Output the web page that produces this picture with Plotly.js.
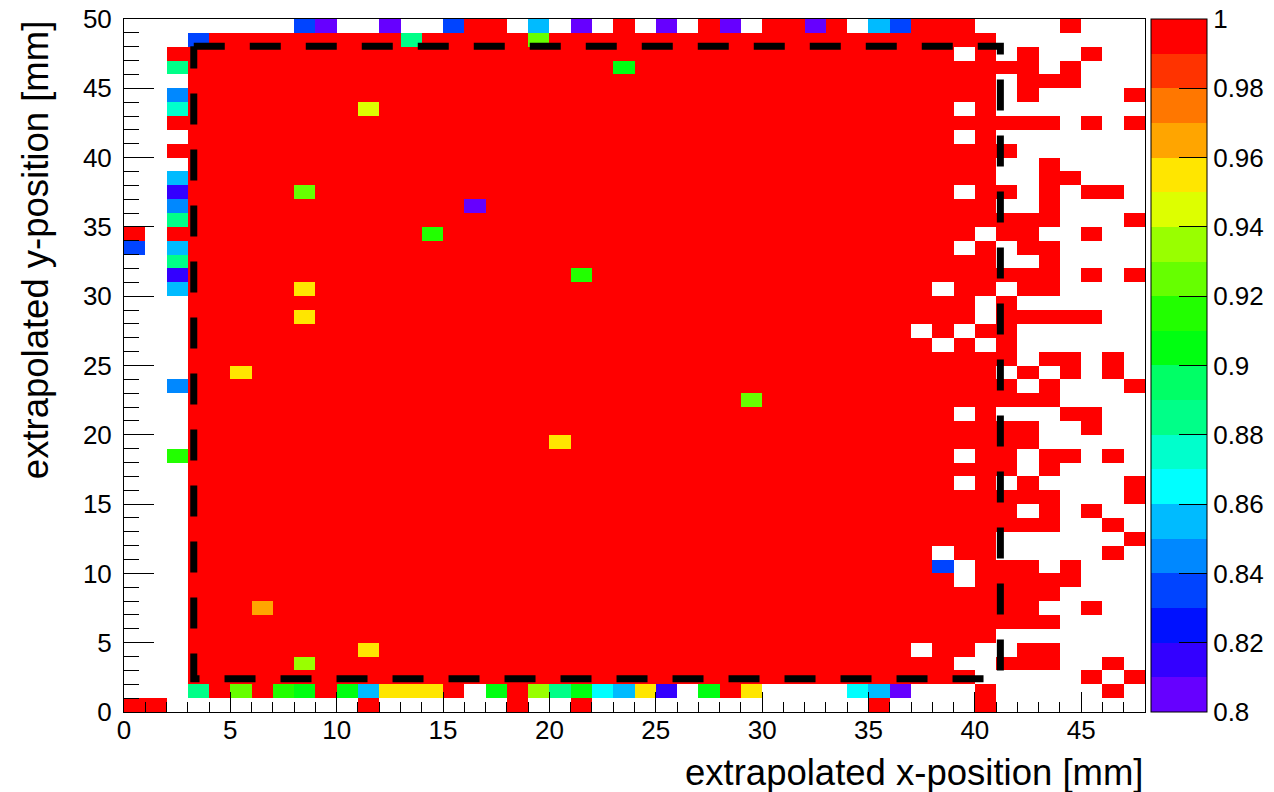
<!DOCTYPE html>
<html>
<head>
<meta charset="utf-8">
<script src="https://cdn.plot.ly/plotly-3.0.1.min.js"></script>
<style>
  html, body { margin: 0; padding: 0; background: #ffffff; }
  #chart { width: 1274px; height: 792px; }
</style>
</head>
<body>
<div id="chart"></div>
<script>
// ---------------- DATA ----------------
// 48 x-bins (0..48 mm) and 50 y-bins (0..50 mm), 1 mm wide each
const xFirstBinCenter = 0.5, xBinWidth = 1, nXBins = 48;
const yFirstBinCenter = 0.5, yBinWidth = 1, nYBins = 50;

// Cell codes -> efficiency value ('.' = empty bin)
const codeValues = {
  'R': 1.000, 'r': 0.985, 'o': 0.975, 'O': 0.965, 'Y': 0.955,
  'y': 0.945, 'l': 0.935, 'L': 0.925, 'g': 0.915, 'G': 0.905,
  'm': 0.895, 'e': 0.885, 't': 0.875, 'C': 0.865, 'c': 0.855,
  's': 0.845, 'b': 0.835, 'B': 0.825, 'V': 0.815, 'P': 0.805
};

// Each row as run-length tokens ("5R" = five cells of code R), top row (y 49-50) first
const rowsTopDown = [
  "8. b P 2. P 2. b 2R . c . P . R . P . R P . 2R P R . c b 3R 4. R 3.", // 49
  "3. b 9R e 5R L 21R 7.",                // 48
  "2. 37R . R . R 2. R 2.",               // 47
  "2. e 20R G 19R . R 3.",                // 46
  "3. 38R . 3R 3.",                       // 45
  "2. s 38R . R 4. R",                    // 44
  "2. t 8R y 27R . R 7.",                 // 43
  "2. 42R . R . R",                       // 42
  "3. 36R . R 7.",                        // 41
  "2. 40R 6.",                            // 40
  "3. 38R 2. R 4.",                       // 39
  "2. c 38R 2. 2R 3.",                    // 38
  "2. V 5R L 30R . 2R . R . 2R .",        // 37
  "2. s 13R P 24R 2. R 4.",               // 36
  "2. e 41R 3. R",                        // 35
  "R . 12R g 25R . 2R 2. R 2.",           // 34
  "b . c 36R . R . 2R 4.",                // 33
  "2. e 38R 2. R 4.",                     // 32
  "2. V 18R g 22R . R . R",               // 31
  "2. c 5R Y 29R . 2R . 2R 4.",           // 30
  "3. 37R . R 6.",                        // 29
  "3. 5R Y 31R . 5R 2.",                  // 28
  "3. 34R . R . 2R 6.",                   // 27
  "3. 35R . R . R 6.",                    // 26
  "3. 39R . 2R . R .",                    // 25
  "3. 2R Y 35R . R . R . R .",            // 24
  "2. s 39R . R 3. R",                    // 23
  "3. 26R L 14R 4.",                      // 22
  "3. 36R . R 3. 2R 2.",                  // 21
  "3. 40R 2. R 2.",                       // 20
  "3. 17R Y 22R 5.",                      // 19
  "2. g 36R . 2R . 2R . R .",             // 18
  "3. 39R . R 4.",                        // 17
  "3. 36R . R . R 4. R",                  // 16
  "3. 41R 3. R",                          // 15
  "3. 39R . R . R 2.",                    // 14
  "3. 41R 2. R .",                        // 13
  "3. 38R 6. R",                          // 12
  "3. 35R . 2R 5. R .",                   // 11
  "3. 35R b . 3R . R 3.",                 // 10
  "3. 36R . 5R 3.",                       // 9
  "3. 41R 4.",                            // 8
  "3. 3R O 36R 2. R 2.",                  // 7
  "3. 41R 4.",                            // 6
  "3. 38R 7.",                            // 5
  "3. 8R Y 25R . 2R 2. 2R 4.",            // 4
  "3. 5R l 30R 2. 3R 2. R .",             // 3
  "3. 37R 5. R . R",                      // 2
  "3. e R L R g G R G c 3Y R . G R l e G C c Y V . G R Y 4. C c P 3. R 5. R .", // 1
  "2R 9. R 6. R 2. R 13. R 4. R 7."       // 0
];

// Colour bands of the palette, from 0.80 (bottom) to 1.00 (top), 0.01 each
const paletteColors = [
  '#6600FF', '#3300FF', '#0011FF', '#0044FF', '#0088FF',
  '#00BBFF', '#00FFFF', '#00FFCC', '#00FF88', '#00FF66',
  '#00FF11', '#22FF00', '#66FF00', '#99FF00', '#DDFF00',
  '#FFE600', '#FFA500', '#FF7700', '#FF3300', '#FF0000'
];
const zMin = 0.8, zMax = 1.0;
const colorbarTickVals = [0.8, 0.82, 0.84, 0.86, 0.88, 0.9, 0.92, 0.94, 0.96, 0.98, 1];
const colorbarTickText = ['0.8', '0.82', '0.84', '0.86', '0.88', '0.9', '0.92', '0.94', '0.96', '0.98', '1'];

// Axis ranges (mm)
const xRange = [0, 48];
const yRange = [0, 50];

// Dashed fiducial boundary (mm)
const fiducialX = [3.28, 41.2, 41.2, 3.28, 3.28];
const fiducialY = [48.04, 48.04, 2.4, 2.4, 48.04];

const xTitle = 'extrapolated x-position [mm]';
const yTitle = 'extrapolated y-position [mm]';

// ---------------- BUILD ----------------
function decodeRow(rle) {
  const out = [];
  rle.trim().split(/\s+/).forEach(tok => {
    const m = tok.match(/^(\d*)(.)$/);
    const n = m[1] ? parseInt(m[1], 10) : 1;
    const v = m[2] === '.' ? null : codeValues[m[2]];
    for (let i = 0; i < n; i++) out.push(v);
  });
  if (out.length !== nXBins) console.warn('row length', out.length, rle);
  return out;
}
const z = rowsTopDown.map(decodeRow).reverse(); // z[0] = bottom row (y 0..1)

const colorscale = [];
paletteColors.forEach((c, i) => {
  colorscale.push([i / paletteColors.length, c]);
  colorscale.push([(i + 1) / paletteColors.length, c]);
});

const FONT = 'Liberation Sans, Arial, Helvetica, sans-serif';
const TICKFONT = { family: FONT, size: 26, color: '#000000' };

const heat = {
  type: 'heatmap',
  z: z,
  x0: xFirstBinCenter, dx: xBinWidth,
  y0: yFirstBinCenter, dy: yBinWidth,
  zmin: zMin, zmax: zMax,
  zsmooth: false,
  colorscale: colorscale,
  hoverongaps: false,
  colorbar: {
    thickness: 56, thicknessmode: 'pixels',
    len: 1, lenmode: 'fraction',
    x: 1.006, xanchor: 'left', xref: 'paper',
    y: 0, yanchor: 'bottom', yref: 'paper',
    xpad: 0, ypad: 0,
    outlinewidth: 1, outlinecolor: '#000000',
    tickmode: 'array', tickvals: colorbarTickVals, ticktext: colorbarTickText,
    ticks: 'inside', ticklen: 28, tickwidth: 1, tickcolor: '#000000',
    tickfont: TICKFONT
  }
};

const fiducial = {
  type: 'scatter', mode: 'lines',
  x: fiducialX, y: fiducialY,
  line: { color: '#000000', width: 7, dash: '31px,25px' },
  hoverinfo: 'skip', showlegend: false
};

// invisible carrier trace so the label axis (x2) is drawn
const labelCarrier = {
  type: 'scatter', mode: 'markers', x: xRange, y: yRange,
  xaxis: 'x2', yaxis: 'y',
  marker: { size: 1, color: 'rgba(0,0,0,0)' },
  hoverinfo: 'skip', showlegend: false
};

const layout = {
  width: 1274, height: 792,
  margin: { l: 124, r: 129, t: 19, b: 80, autoexpand: false },
  paper_bgcolor: '#ffffff', plot_bgcolor: '#ffffff',
  showlegend: false,
  font: { family: FONT, color: '#000000' },
  xaxis: {
    range: xRange,
    showline: true, linecolor: '#000000', linewidth: 1, mirror: true,
    showgrid: false, zeroline: false,
    ticks: 'inside', ticklen: 20, tickcolor: '#000000', tickwidth: 1,
    tick0: 0, dtick: 5, showticklabels: false,
    minor: { dtick: 1, ticklen: 10, ticks: 'inside', tickcolor: '#000000', tickwidth: 1 },
    layer: 'above traces'
  },
  // tick labels of the x axis
  xaxis2: {
    overlaying: 'x', anchor: 'y', side: 'bottom',
    range: xRange,
    showline: false, showgrid: false, zeroline: false,
    ticks: '',
    tick0: 0, dtick: 5,
    tickfont: TICKFONT
  },
  yaxis: {
    range: yRange,
    showline: true, linecolor: '#000000', linewidth: 1, mirror: true,
    showgrid: false, zeroline: false,
    ticks: 'inside', ticklen: 30, tickcolor: '#000000', tickwidth: 1,
    tick0: 0, dtick: 5,
    tickfont: TICKFONT,
    minor: { dtick: 1, ticklen: 15, ticks: 'inside', tickcolor: '#000000', tickwidth: 1 },
    ticklabelstandoff: 6,
    layer: 'above traces'
  },
  annotations: [
    { text: xTitle, xref: 'paper', yref: 'paper', x: 1, y: -0.087,
      xanchor: 'right', yanchor: 'middle', showarrow: false,
      font: { family: FONT, size: 36.5, color: '#000000' } },
    { text: yTitle, xref: 'paper', yref: 'paper', x: -0.087, y: 1,
      xanchor: 'center', yanchor: 'top', textangle: -90, showarrow: false,
      font: { family: FONT, size: 36.5, color: '#000000' } }
  ]
};

Plotly.newPlot('chart', [heat, fiducial, labelCarrier], layout, { displayModeBar: false, staticPlot: true });
</script>
</body>
</html>
